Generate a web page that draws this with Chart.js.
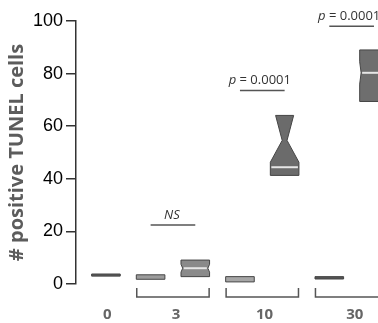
<!DOCTYPE html>
<html>
<head>
<meta charset="utf-8">
<script src="https://cdn.jsdelivr.net/npm/chart.js@4/dist/chart.umd.min.js"></script>
<style>
  html, body { margin: 0; padding: 0; background: #fff; }
  #wrap { width: 378px; height: 323px; }
</style>
</head>
<body>
<div id="wrap"><canvas id="chart"></canvas></div>
<script>
// Group labels under the x axis and where they sit (box slot units)
const groupLabels = ['0', '3', '10', '30'];
const groupPos = [0.03, 1.57, 3.55, 5.57];

// One box per slot: 0 | 3a 3b | 10a 10b | 30a 30b
const boxSlot = [0, 1, 2, 3, 4, 5, 6];
const q1 = [3.0, 1.8, 2.8, 0.8, 41.3, 1.9, 69.4];
const median = [3.4, 2.7, 6.0, 1.8, 44.4, 2.4, 80.3];
const q3 = [3.8, 3.5, 9.1, 2.8, 64.1, 2.8, 89.0];
// notch: start, narrowest point, end (null = plain box)
const notchLo = [null, null, 4.5, null, 46.3, null, 76.0];
const notchMid = [null, null, 6.0, null, 54.6, null, 80.3];
const notchHi = [null, null, 7.5, null, 71.7, null, 84.5];

// Brackets under the axis (pairs of slots)
const bracketFrom = [1, 3, 5];
const bracketTo = [2, 4, 6];

// Significance marks
const sigFrom = [1, 3, 5];
const sigTo = [2, 4, 6];
const sigLevel = [22.4, 73.6, 98.0];
const sigText = ['NS', '0.0001', '0.0001'];

const yTicks = [0, 20, 40, 60, 80, 100];

// styles, kept apart from the data
const boxFill = ['#5a5a5a', '#9c9c9c', '#8a8a8a', '#a6a6a6', '#6b6b6b', '#555555', '#6e6e6e'];
const waistFrac = [1, 1, 0.88, 1, 0.17, 1, 0.9];
const showMedian = [false, false, true, false, true, false, true];
const BOX_W = 0.64;

function widthAt(i, v) {
  if (notchLo[i] == null) return 1;
  const lo = notchLo[i], mid = notchMid[i], hi = notchHi[i], w = waistFrac[i];
  if (v <= lo || v >= hi) return 1;
  if (v <= mid) return 1 - (1 - w) * (v - lo) / (mid - lo);
  return w + (1 - w) * (v - mid) / (hi - mid);
}

const boxPlugin = {
  id: 'boxes',
  afterDatasetsDraw(chart) {
    const { ctx, scales: { x, y } } = chart;
    ctx.save();
    boxSlot.forEach((s, i) => {
      const vals = [q1[i], q3[i]];
      [notchLo[i], notchMid[i], notchHi[i]].forEach((v) => {
        if (v != null && v > q1[i] && v < q3[i]) vals.push(v);
      });
      vals.sort((a, b) => a - b);
      const half = (x.getPixelForValue(s + BOX_W / 2) - x.getPixelForValue(s - BOX_W / 2)) / 2;
      const cx = x.getPixelForValue(s);
      ctx.beginPath();
      vals.forEach((v, k) => {
        const px = cx - half * widthAt(i, v);
        const py = y.getPixelForValue(v);
        if (k === 0) ctx.moveTo(px, py); else ctx.lineTo(px, py);
      });
      vals.slice().reverse().forEach((v) => {
        ctx.lineTo(cx + half * widthAt(i, v), y.getPixelForValue(v));
      });
      ctx.closePath();
      ctx.fillStyle = boxFill[i];
      ctx.fill();
      ctx.strokeStyle = '#454545';
      ctx.lineWidth = 1;
      ctx.stroke();
      if (showMedian[i]) {
        const hw = half * widthAt(i, median[i]) - 1;
        const my = y.getPixelForValue(median[i]);
        ctx.beginPath();
        ctx.moveTo(cx - hw, my);
        ctx.lineTo(cx + hw, my);
        ctx.strokeStyle = '#e6e6e6';
        ctx.lineWidth = 2;
        ctx.stroke();
      }
    });

    // brackets below the axis
    const b = chart.chartArea.bottom;
    ctx.strokeStyle = '#555';
    ctx.lineWidth = 1.5;
    bracketFrom.forEach((f, i) => {
      const x0 = x.getPixelForValue(f - 0.31);
      const x1 = x.getPixelForValue(bracketTo[i] + 0.31);
      ctx.beginPath();
      ctx.moveTo(x0, b + 4);
      ctx.lineTo(x0, b + 13);
      ctx.lineTo(x1, b + 13);
      ctx.lineTo(x1, b + 4);
      ctx.stroke();
    });

    // significance lines and labels
    sigFrom.forEach((f, i) => {
      const x0 = x.getPixelForValue(f);
      const x1 = x.getPixelForValue(sigTo[i]);
      const ly = y.getPixelForValue(sigLevel[i]);
      ctx.beginPath();
      ctx.moveTo(x0, ly);
      ctx.lineTo(x1, ly);
      ctx.strokeStyle = '#555';
      ctx.lineWidth = 1.5;
      ctx.stroke();
      ctx.fillStyle = '#333';
      ctx.textBaseline = 'alphabetic';
      const cx = (x0 + x1) / 2 - 2.5;
      const ty = ly - 6;
      if (sigText[i] === 'NS') {
        ctx.font = 'italic 13px "Open Sans"';
        ctx.textAlign = 'center';
        ctx.fillText('NS', cx + 1.5, ty);
      } else {
        ctx.font = 'italic 13px "Open Sans"';
        const wp = ctx.measureText('p').width;
        ctx.font = '13px "Open Sans"';
        const rest = ' = ' + sigText[i];
        const wr = ctx.measureText(rest).width;
        const sx = cx - (wp + wr) / 2;
        ctx.textAlign = 'left';
        ctx.font = 'italic 13px "Open Sans"';
        ctx.fillText('p', sx, ty);
        ctx.font = '13px "Open Sans"';
        ctx.fillText(rest, sx + wp, ty);
      }
    });
    ctx.restore();
  }
};

new Chart(document.getElementById('chart'), {
  type: 'scatter',
  data: {
    datasets: [{
      data: boxSlot.map((s, i) => ({ x: s, y: median[i] })),
      pointRadius: 0,
      pointHoverRadius: 0
    }]
  },
  options: {
    responsive: true,
    maintainAspectRatio: false,
    animation: false,
    events: [],
    layout: { padding: { top: 21, right: 0, bottom: 0, left: 0 } },
    plugins: { legend: { display: false }, tooltip: { enabled: false } },
    scales: {
      x: {
        type: 'linear',
        min: -0.67,
        max: 6.09,
        afterBuildTicks: (axis) => { axis.ticks = groupPos.map((v) => ({ value: v })); },
        afterFit: (axis) => {
          axis.height = 39;
          axis.paddingLeft = 0;
          axis.paddingRight = 0;
        },
        grid: { display: false, drawTicks: false },
        border: { display: false },
        ticks: {
          padding: 22,
          maxRotation: 0,
          autoSkip: false,
          color: '#666',
          font: { family: '"Open Sans"', size: 15, weight: 'bold' },
          callback: (v) => groupLabels[groupPos.indexOf(v)]
        }
      },
      y: {
        min: 0,
        max: 100,
        afterBuildTicks: (axis) => { axis.ticks = yTicks.map((v) => ({ value: v })); },
        afterFit: (axis) => { axis.width = 76; },
        grid: { drawOnChartArea: false, tickLength: 10, color: '#333', lineWidth: 1.5 },
        border: { display: true, color: '#333', width: 1.5 },
        ticks: {
          padding: 3,
          color: '#000',
          font: { family: '"Liberation Sans"', size: 18 }
        },
        title: {
          display: true,
          text: '# positive TUNEL cells',
          color: '#5c5c5c',
          font: { family: '"Open Sans"', size: 20, weight: 'bold' },
          padding: { top: 5, bottom: 0 }
        }
      }
    }
  },
  plugins: [boxPlugin]
});
</script>
</body>
</html>
